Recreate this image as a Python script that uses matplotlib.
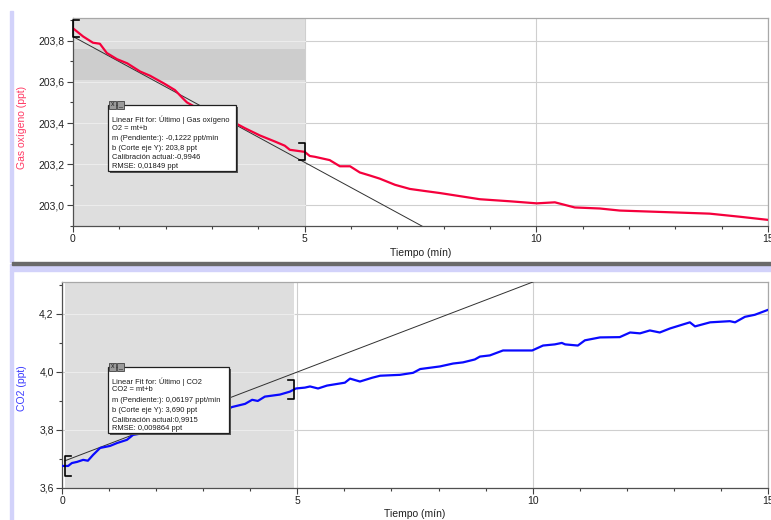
import numpy as np
import matplotlib.pyplot as plt
from matplotlib.patches import Rectangle
from matplotlib.ticker import MultipleLocator, FuncFormatter

plt.rcParams['font.family'] = ['Liberation Sans', 'DejaVu Sans']

# Gas oxigeno (ppt) vs tiempo (min)
t_o2 = [0.00, 0.22, 0.43, 0.58, 0.73, 0.95, 1.17, 1.45, 1.66, 1.98, 2.20, 2.37,
        2.46, 2.70, 3.00, 3.25, 3.50, 3.71, 4.03, 4.36, 4.57, 4.68, 5.00, 5.11,
        5.22, 5.54, 5.76, 5.98, 6.19, 6.41, 6.62, 6.95, 7.27, 7.59, 7.92, 8.35,
        8.78, 9.43, 10.01, 10.40, 10.83, 11.37, 11.80, 12.45, 13.10, 13.74,
        14.39, 14.99]
o2 = [203.86, 203.82, 203.79, 203.785, 203.74, 203.71, 203.69, 203.65, 203.63,
      203.59, 203.56, 203.52, 203.50, 203.47, 203.44, 203.42, 203.40, 203.375,
      203.34, 203.31, 203.29, 203.27, 203.26, 203.24, 203.236, 203.22, 203.19,
      203.19, 203.16, 203.145, 203.13, 203.10, 203.08, 203.07, 203.06, 203.045,
      203.03, 203.02, 203.01, 203.015, 202.99, 202.985, 202.975, 202.97, 202.965,
      202.96, 202.945, 202.93]

# CO2 (ppt) vs tiempo (min)
t_co2 = [0.00, 0.13, 0.21, 0.32, 0.45, 0.55, 0.66, 0.81, 1.02, 1.17, 1.38, 1.51,
         1.76, 2.00, 2.40, 2.80, 3.20, 3.50, 3.61, 3.89, 4.04, 4.16, 4.31, 4.63,
         4.84, 4.97, 5.16, 5.27, 5.44, 5.63, 6.01, 6.12, 6.33, 6.59, 6.76, 7.18,
         7.46, 7.61, 8.03, 8.31, 8.52, 8.77, 8.88, 9.09, 9.37, 9.73, 9.99, 10.22,
         10.47, 10.62, 10.69, 10.96, 11.11, 11.43, 11.85, 12.07, 12.28, 12.49,
         12.70, 12.92, 13.34, 13.45, 13.77, 14.19, 14.30, 14.51, 14.72, 15.00]
co2 = [3.676, 3.676, 3.686, 3.690, 3.697, 3.694, 3.714, 3.738, 3.745, 3.755,
       3.766, 3.783, 3.790, 3.800, 3.820, 3.835, 3.855, 3.870, 3.879, 3.890,
       3.904, 3.900, 3.915, 3.922, 3.932, 3.943, 3.946, 3.950, 3.943, 3.953,
       3.963, 3.977, 3.967, 3.980, 3.987, 3.990, 3.997, 4.010, 4.019, 4.029,
       4.033, 4.043, 4.053, 4.057, 4.074, 4.074, 4.074, 4.091, 4.095, 4.100,
       4.095, 4.091, 4.109, 4.119, 4.120, 4.136, 4.133, 4.143, 4.136, 4.150,
       4.171, 4.157, 4.171, 4.175, 4.171, 4.190, 4.197, 4.214]

# linear fits (m, b) and selected ranges
o2_m, o2_b, o2_r, o2_rmse = -0.1222, 203.82, -0.9946, 0.01849
co2_m, co2_b, co2_r, co2_rmse = 0.06197, 3.690, 0.9915, 0.009864
o2_range = (0.0, 5.0)
co2_range = (0.06, 4.93)

W, H = 771, 520
RED = '#f5003c'
BLUE = '#0a0aff'
SHADE = '#dedede'


def fx(x):
    return x / W


def fy(y):
    return 1 - y / H


def comma(v, p):
    return f"{v:.1f}".replace('.', ',')


def style_axes(ax, ylim, ymaj):
    ax.set_xlim(0, 15)
    ax.set_ylim(*ylim)
    ax.xaxis.set_major_locator(MultipleLocator(5))
    ax.xaxis.set_minor_locator(MultipleLocator(1))
    ax.yaxis.set_major_locator(MultipleLocator(ymaj))
    ax.yaxis.set_minor_locator(MultipleLocator(ymaj / 2))
    ax.yaxis.set_major_formatter(FuncFormatter(comma))
    ax.tick_params(which='major', length=4, width=0.8, color='#404040',
                   labelsize=7.5, pad=2, labelcolor='#202020')
    ax.tick_params(which='minor', length=2.5, width=0.8, color='#404040')
    for s in ('left', 'bottom'):
        ax.spines[s].set_color('#505050')
        ax.spines[s].set_linewidth(0.9)
    for s in ('top', 'right'):
        ax.spines[s].set_color('#a8a8a8')
        ax.spines[s].set_linewidth(0.9)
    ax.grid(True, which='major', color='#cfcfcf', lw=0.8, zorder=0)
    ax.set_axisbelow(True)


def shade(ax, x0, x1):
    ax.axvspan(x0, x1, color=SHADE, zorder=0.6, lw=0)
    # grid lines show lighter inside the selection
    for yv in ax.get_yticks():
        if ax.get_ylim()[0] < yv < ax.get_ylim()[1]:
            ax.plot([x0, x1], [yv, yv], color='#ececec', lw=0.8, zorder=0.7)


def bracket(ax, t, y, h, w, color='black'):
    # w > 0 opens to the right "[", w < 0 opens to the left "]"
    ax.plot([t + w, t, t, t + w], [y + h / 2, y + h / 2, y - h / 2, y - h / 2],
            color=color, lw=1.2, zorder=5, clip_on=False)


def fit_box(x0, y0, x1, y1, lines, ys):
    fig.add_artist(Rectangle((fx(x0 + 2), fy(y1 + 2)), (x1 - x0) / W, (y1 - y0) / H,
                             transform=fig.transFigure, facecolor='#555555',
                             edgecolor='none', zorder=9))
    fig.add_artist(Rectangle((fx(x0), fy(y1)), (x1 - x0) / W, (y1 - y0) / H,
                             transform=fig.transFigure, facecolor='white',
                             edgecolor='#202020', lw=0.9, zorder=10))
    for i, c in enumerate(('x', '_')):
        fig.add_artist(Rectangle((fx(x0 + 1 + 8 * i), fy(y0 + 4)), 7 / W, 8 / H,
                                 transform=fig.transFigure, facecolor='#9a9a9a',
                                 edgecolor='#404040', lw=0.6, zorder=11))
        fig.text(fx(x0 + 4.5 + 8 * i), fy(y0), c, fontsize=5, ha='center',
                 va='center', color='#202020', zorder=12)
    for txt, yy in zip(lines, ys):
        fig.text(fx(x0 + 4), fy(yy), txt, fontsize=5.4, ha='left', va='center',
                 color='#1a1a1a', zorder=12)


fig = plt.figure(figsize=(W / 100, H / 100), dpi=100)

# window frame: lavender gutters and separator
fig.add_artist(Rectangle((fx(10), fy(262)), 3 / W, (262 - 11) / H,
                         transform=fig.transFigure, color='#d2d2fa', zorder=0))
fig.add_artist(Rectangle((fx(10), 0), 3 / W, (H - 271) / H,
                         transform=fig.transFigure, color='#d2d2fa', zorder=0))
fig.add_artist(Rectangle((fx(10), fy(271)), (W - 10) / W, 7 / H,
                         transform=fig.transFigure, color='#d2d2fa', zorder=0))
fig.add_artist(Rectangle((fx(12), fy(264.5)), (W - 12) / W, 2.5 / H,
                         transform=fig.transFigure, color='#6a6a6a', zorder=0))

# ---- oxygen panel ----
ax1 = fig.add_axes([fx(73), fy(226), (768 - 73) / W, (226 - 18) / H])
style_axes(ax1, (202.9, 203.91), 0.2)
shade(ax1, *o2_range)
ax1.fill_between(o2_range, 203.61, 203.76, color='#cdcdcd', lw=0, zorder=0.65)
tt = np.array([0, 15])
ax1.plot(tt, o2_m * tt + o2_b, color='#303030', lw=0.7, zorder=3)
ax1.plot(t_o2, o2, color=RED, lw=1.6, zorder=4)
bracket(ax1, o2_range[0], np.interp(o2_range[0], t_o2, o2), 0.082, 0.13)
bracket(ax1, o2_range[1], np.interp(o2_range[1], t_o2, o2), 0.082, -0.13)
ax1.set_xticklabels([str(int(v)) for v in ax1.get_xticks()])
fig.text(fx(22), fy(127), 'Gas oxígeno (ppt)', rotation=90, color='#ff3a64',
         fontsize=7.5, ha='center', va='center')
fig.text(fx(421), fy(253), 'Tiempo (mín)', fontsize=7.5, ha='center',
         va='center', color='#202020')

# ---- CO2 panel ----
ax2 = fig.add_axes([fx(62), fy(488), (768 - 62) / W, (488 - 282) / H])
style_axes(ax2, (3.6, 4.31), 0.2)
shade(ax2, *co2_range)
tt = np.array([co2_range[0], 15])
ax2.plot(tt, co2_m * tt + co2_b, color='#303030', lw=0.7, zorder=3)
ax2.plot(t_co2, co2, color=BLUE, lw=1.6, zorder=4)
bracket(ax2, co2_range[0], np.interp(co2_range[0], t_co2, co2), 0.066, 0.13)
bracket(ax2, co2_range[1], np.interp(co2_range[1], t_co2, co2), 0.066, -0.13)
ax2.set_xticklabels([str(int(v)) for v in ax2.get_xticks()])
fig.text(fx(22), fy(388), 'CO2 (ppt)', rotation=90, color='#3c3cff',
         fontsize=7.5, ha='center', va='center')
fig.text(fx(415), fy(514), 'Tiempo (mín)', fontsize=7.5, ha='center',
         va='center', color='#202020')


def num(v, d):
    return f"{v:.{d}f}".replace('.', ',')


fit_box(108, 105, 236, 171,
        ['Linear Fit for: Último | Gas oxígeno', 'O2 = mt+b',
         f'm (Pendiente:): {num(o2_m, 4)} ppt/mín',
         f'b (Corte eje Y): {num(o2_b, 1)} ppt',
         f'Calibración actual:{num(o2_r, 4)}',
         f'RMSE: {num(o2_rmse, 5)} ppt'],
        [120, 128, 138.5, 148, 157, 166])
fit_box(108, 367, 229, 433,
        ['Linear Fit for: Último | CO2', 'CO2 = mt+b',
         f'm (Pendiente:): {num(co2_m, 5)} ppt/mín',
         f'b (Corte eje Y): {num(co2_b, 3)} ppt',
         f'Calibración actual:{num(co2_r, 4)}',
         f'RMSE: {num(co2_rmse, 6)} ppt'],
        [382, 389.5, 400, 410.5, 420, 429])

fig.savefig('out.png', dpi=100)
